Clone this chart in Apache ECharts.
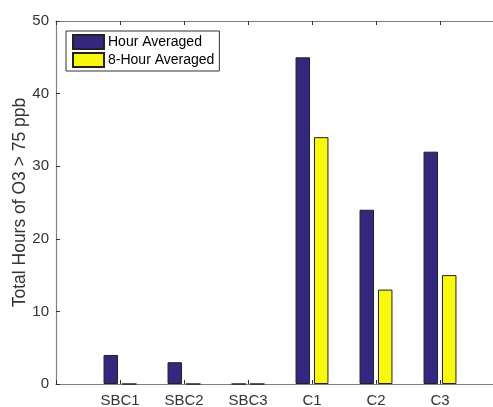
<!DOCTYPE html>
<html><head><meta charset="utf-8">
<script src="https://cdn.jsdelivr.net/npm/echarts@6/dist/echarts.min.js"></script>
<style>html,body{margin:0;padding:0;background:#fff}#c{width:493px;height:407px}</style>
</head><body><div id="c"></div>
<script>
const categories = ['SBC1', 'SBC2', 'SBC3', 'C1', 'C2', 'C3'];
const hourAveraged = [4, 3, 0, 45, 24, 32];
const eightHourAveraged = [0, 0, 0, 34, 13, 15];
const yTicks = [0, 10, 20, 30, 40, 50];

// axis slots: an empty slot at each end so the frame extends like the original
const axisSlots = [''].concat(categories, ['']);

const chart = echarts.init(document.getElementById('c'), null, {renderer: 'canvas'});
const font = 'Liberation Sans, Arial, sans-serif';
const axisLine = {show: true, lineStyle: {color: '#808080', width: 1.2}};
const tick = {show: true, inside: true, length: 4, lineStyle: {color: '#333', width: 1}};
chart.setOption({
  animation: false,
  grid: {left: 56, top: 21, width: 448, height: 363, containLabel: false, outerBoundsMode: 'none'},
  legend: {
    orient: 'vertical', left: 66, top: 31,
    itemWidth: 31, itemHeight: 14, itemGap: 2,
    padding: [3, 5, 3, 6],
    borderColor: '#333', borderWidth: 1, backgroundColor: '#fff',
    textStyle: {fontFamily: font, fontSize: 14, color: '#000', padding: [0, 0, 0, -1]},
    data: [{name: 'Hour Averaged', icon: 'rect'}, {name: '8-Hour Averaged', icon: 'rect'}]
  },
  xAxis: [{
    type: 'category', data: axisSlots, boundaryGap: false, position: 'bottom',
    axisLine: axisLine, axisTick: Object.assign({interval: 0}, tick), splitLine: {show: false},
    axisLabel: {fontFamily: font, fontSize: 15, color: '#333', margin: 9, interval: 0}
  }, {
    type: 'category', data: axisSlots, boundaryGap: false, position: 'top',
    axisLine: axisLine, axisTick: Object.assign({interval: 0}, tick), splitLine: {show: false},
    axisLabel: {show: false}
  }],
  yAxis: {
    type: 'value', min: yTicks[0], max: yTicks[yTicks.length - 1], interval: 10,
    name: 'Total Hours of O3 > 75 ppb', nameLocation: 'middle', nameGap: 27,
    nameMoveOverlap: false,
    nameTextStyle: {fontFamily: font, fontSize: 17.5, color: '#333'},
    axisLine: axisLine, axisTick: tick, splitLine: {show: false},
    axisLabel: {fontFamily: font, fontSize: 15, color: '#333', margin: 7}
  },
  series: [{
    name: 'Hour Averaged', type: 'bar', xAxisIndex: 0,
    data: hourAveraged.map((v, i) => [i + 1, v]),
    barWidth: 14.5, barGap: '27%',
    itemStyle: {color: '#33287e', borderColor: '#222', borderWidth: 1}
  }, {
    name: '8-Hour Averaged', type: 'bar', xAxisIndex: 0,
    data: eightHourAveraged.map((v, i) => [i + 1, v]),
    barWidth: 14.5, barGap: '27%',
    itemStyle: {color: '#f8f80c', borderColor: '#222', borderWidth: 1}
  }]
});
</script></body></html>
